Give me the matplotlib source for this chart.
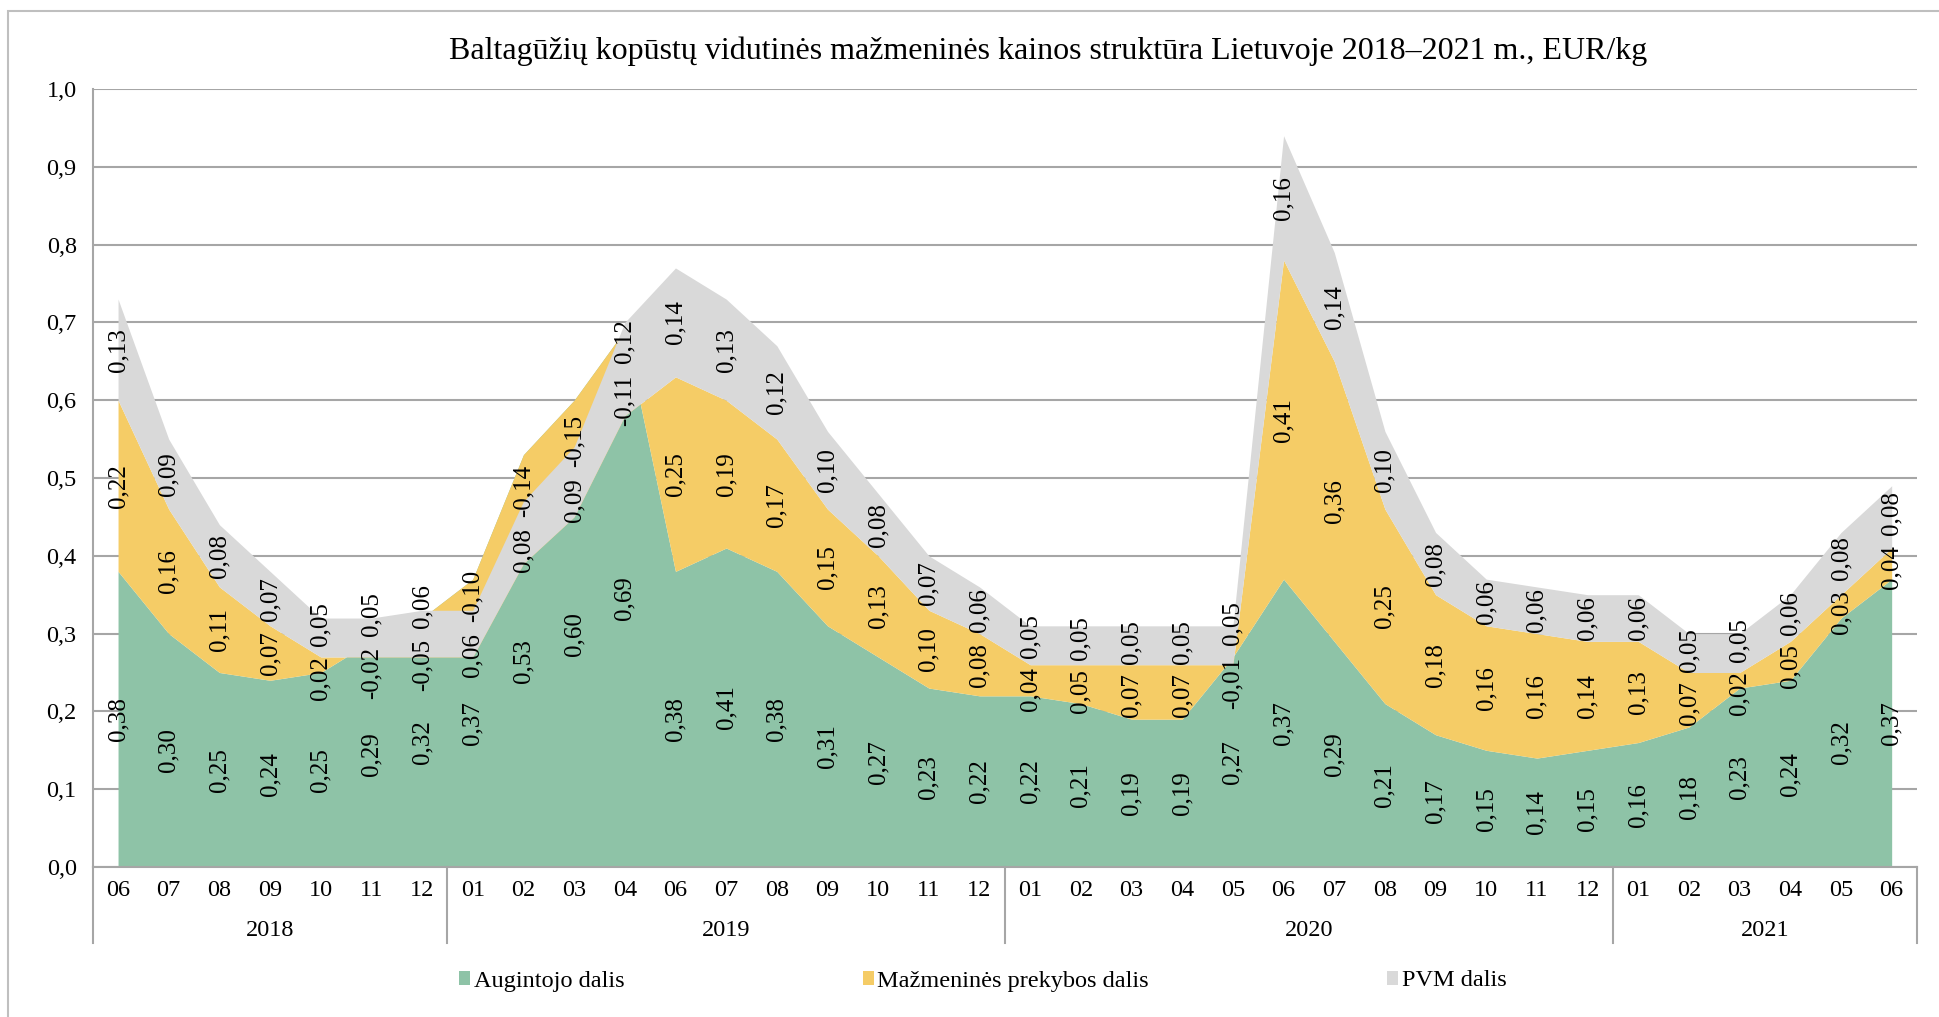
import numpy as np
import matplotlib
matplotlib.use("Agg")
import matplotlib.pyplot as plt
from matplotlib.patches import Patch, Rectangle
import matplotlib.transforms as mtransforms

plt.rcParams['font.family'] = ['Liberation Serif', 'DejaVu Serif']

# ---- data ----
months = ["06", "07", "08", "09", "10", "11", "12",
          "01", "02", "03", "04", "06", "07", "08", "09", "10", "11", "12",
          "01", "02", "03", "04", "05", "06", "07", "08", "09", "10", "11", "12",
          "01", "02", "03", "04", "05", "06"]
years = ["2018", "2019", "2020", "2021"]
year_counts = [7, 11, 12, 6]

augintojo = [0.38, 0.30, 0.25, 0.24, 0.25, 0.29, 0.32,
             0.37, 0.53, 0.60, 0.69, 0.38, 0.41, 0.38, 0.31, 0.27, 0.23, 0.22,
             0.22, 0.21, 0.19, 0.19, 0.27, 0.37, 0.29, 0.21, 0.17, 0.15, 0.14, 0.15,
             0.16, 0.18, 0.23, 0.24, 0.32, 0.37]
prekybos = [0.22, 0.16, 0.11, 0.07, 0.02, -0.02, -0.05,
            -0.10, -0.14, -0.15, -0.11, 0.25, 0.19, 0.17, 0.15, 0.13, 0.10, 0.08,
            0.04, 0.05, 0.07, 0.07, -0.01, 0.41, 0.36, 0.25, 0.18, 0.16, 0.16, 0.14,
            0.13, 0.07, 0.02, 0.05, 0.03, 0.04]
pvm = [0.13, 0.09, 0.08, 0.07, 0.05, 0.05, 0.06,
       0.06, 0.08, 0.09, 0.12, 0.14, 0.13, 0.12, 0.10, 0.08, 0.07, 0.06,
       0.05, 0.05, 0.05, 0.05, 0.05, 0.16, 0.14, 0.10, 0.08, 0.06, 0.06, 0.06,
       0.06, 0.05, 0.05, 0.06, 0.08, 0.08]

series = [("Augintojo dalis", augintojo, "#8ec3a7"),
          ("Mažmeninės prekybos dalis", prekybos, "#f5cc66"),
          ("PVM dalis", pvm, "#d9d9d9")]

W, H = 1939, 1017
LABEL_FS = 18
fig = plt.figure(figsize=(W / 100, H / 100), dpi=100)
ax = fig.add_axes([92.7 / W, 1 - 867 / H, (1917 - 92.7) / W, (867 - 89) / H])
px_per_unit = (867 - 89) / 1.0


def fmt(v, d=2):
    return f"{v:.{d}f}".replace(".", ",")


x = np.arange(len(months))
base = np.zeros(len(months))
labels = [[] for _ in months]  # per column: [y, half-length, text]
for name, vals, col in series:
    vals = np.array(vals)
    top = base + vals
    ax.fill_between(x, base, top, color=col, linewidth=0, zorder=2)
    for i in range(len(months)):
        txt = fmt(vals[i])
        half = 0.5 * (len(txt) * 0.47 + 0.1) * LABEL_FS * 1.39 / px_per_unit
        labels[i].append([(base[i] + top[i]) / 2, half, txt])
    base = top

# push apart labels in the same column that would overlap
gap = 4 / px_per_unit
for col_labels in labels:
    for _ in range(10):
        col_labels.sort(key=lambda l: l[0])
        moved = False
        for a, b in zip(col_labels[:-1], col_labels[1:]):
            need = a[1] + b[1] + gap - (b[0] - a[0])
            if need > 1e-6:
                a[0] -= need / 2
                b[0] += need / 2
                moved = True
        if not moved:
            break

for i, col_labels in enumerate(labels):
    for y, half, txt in col_labels:
        ax.text(x[i], y, txt, rotation=90, ha="center", va="center",
                fontsize=LABEL_FS, zorder=5)

ax.set_xlim(-0.5, len(months) - 0.5)
ax.set_ylim(0, 1.0)
yt = np.arange(0, 1.01, 0.1)
ax.set_yticks(yt)
ax.set_yticklabels([fmt(v, 1) for v in yt])
ax.yaxis.grid(True, color="#a6a6a6", linewidth=1.5, zorder=1)
ax.set_axisbelow(True)
ax.tick_params(axis="y", length=0, labelsize=17.5, pad=11.5)
ax.set_xticks(x)
ax.set_xticklabels(months)
ax.tick_params(axis="x", length=0, labelsize=17.5, pad=9)

for s in ["top", "right"]:
    ax.spines[s].set_visible(False)
for s in ["left", "bottom"]:
    ax.spines[s].set_color("#a6a6a6")
    ax.spines[s].set_linewidth(1.5)

# year level of category axis
trans = mtransforms.blended_transform_factory(ax.transData, ax.transAxes)
drop = (943 - 867) / (867 - 89)
ypos = -(931 - 867) / (867 - 89)
start = -0.5
ax.plot([start, start], [0, -drop], transform=trans, color="#a6a6a6",
        linewidth=1.5, clip_on=False)
for yr, n in zip(years, year_counts):
    end = start + n
    ax.plot([end, end], [0, -drop], transform=trans, color="#a6a6a6",
            linewidth=1.5, clip_on=False)
    ax.text((start + end) / 2, ypos, yr, transform=trans, ha="center",
            va="center", fontsize=17.5)
    start = end

fig.text(1048 / W, 1 - 51 / H,
         "Baltagūžių kopūstų vidutinės mažmeninės kainos struktūra Lietuvoje 2018–2021 m., EUR/kg",
         ha="center", va="center", fontsize=23)

handles = [Patch(facecolor=c, edgecolor="none", label=n) for n, v, c in series]
fig.legend(handles=handles, loc="center", bbox_to_anchor=(983 / W, 1 - 981 / H),
           ncol=3, frameon=False, fontsize=17.5, handlelength=0.45,
           handleheight=0.5, handletextpad=0.15, columnspacing=9.8)

fig.patches.append(Rectangle((8 / W, -0.1), 1.2, 1 - 11 / H + 0.1,
                             transform=fig.transFigure, fill=False,
                             edgecolor="#bfbfbf", linewidth=1.5))

fig.savefig("out.png", dpi=100)
